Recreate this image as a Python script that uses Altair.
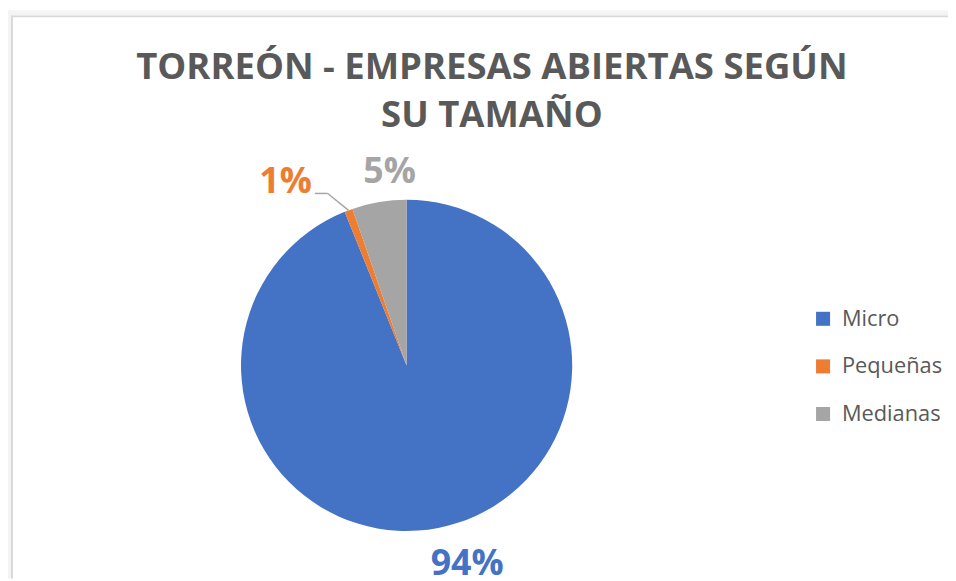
import altair as alt
import pandas as pd

categories = ["Micro", "Pequeñas", "Medianas"]
values = [93.9, 0.8, 5.3]
labels = ["94%", "1%", "5%"]
colors = ["#4472C4", "#ED7D31", "#A5A5A5"]
title_lines = ["TORREÓN - EMPRESAS ABIERTAS SEGÚN", "SU TAMAÑO"]

df = pd.DataFrame({"category": categories, "value": values, "label": labels,
                   "order": list(range(len(categories)))})

CX, CY, R = 402, 358, 167
LR = 200
FONT = "Open Sans"

base = alt.Chart(df)

pie = base.mark_arc(outerRadius=R).encode(
    theta=alt.Theta("value:Q", stack=True),
    order=alt.Order("order:Q"),
    color=alt.Color("category:N",
                    scale=alt.Scale(domain=categories, range=colors),
                    legend=alt.Legend(orient="none", legendX=811, legendY=300, title=None,
                                      symbolType="square", symbolSize=200, symbolStrokeWidth=0,
                                      labelFont=FONT, labelFontSize=22, labelColor="#595959",
                                      rowPadding=26, labelOffset=8, padding=0)),
    x=alt.value(CX), y=alt.value(CY),
)

pos = base.transform_joinaggregate(total="sum(value)").transform_window(
    cum="sum(value)", sort=[alt.SortField("order")], frame=[None, 0]
).transform_calculate(
    mid="2*PI*(datum.cum - datum.value/2)/datum.total"
).transform_calculate(
    px=f"{CX} + {LR}*sin(datum.mid)",
    py=f"{CY} - {LR}*cos(datum.mid)",
    ex=f"{CX} + {R}*sin(datum.mid)",
    ey=f"{CY} - {R}*cos(datum.mid)",
)

nudges = {"Micro": (23, 4), "Pequeñas": (-52, 2), "Medianas": (16, 2)}
label_layers = []
for cat, col in zip(categories, colors):
    dx, dy = nudges[cat]
    label_layers.append(
        pos.transform_filter(alt.datum.category == cat).mark_text(
            font=FONT, fontSize=36, fontWeight="bold", color=col,
            baseline="middle", align="center", dx=dx, dy=dy
        ).encode(x=alt.X("px:Q", scale=None), y=alt.Y("py:Q", scale=None), text="label:N")
    )

lead = pos.transform_filter(alt.datum.category == "Pequeñas").transform_calculate(
    bx="datum.ex - 21", by="datum.ey - 17", sx="datum.ex - 34"
)
lead1 = lead.mark_rule(color="#A6A6A6", strokeWidth=1.5).encode(
    x=alt.X("ex:Q", scale=None), y=alt.Y("ey:Q", scale=None),
    x2="bx:Q", y2="by:Q")
lead2 = lead.mark_rule(color="#A6A6A6", strokeWidth=1.5).encode(
    x=alt.X("bx:Q", scale=None), y=alt.Y("by:Q", scale=None),
    x2="sx:Q", y2="by:Q")

tdf = pd.DataFrame({"t": title_lines, "i": list(range(len(title_lines)))})
title = alt.Chart(tdf).transform_calculate(ty="69 + datum.i*49").mark_text(
    font=FONT, fontSize=36.8, fontWeight="bold", color="#595959",
    align="center", baseline="alphabetic"
).encode(x=alt.value(488), y=alt.Y("ty:Q", scale=None), text="t:N")

bdf = pd.DataFrame({"b": [0]})
outer_left = alt.Chart(bdf).mark_rect(color="#F4F4F4").encode(
    x=alt.value(0), x2=alt.value(3), y=alt.value(0), y2=alt.value(573))
outer_top = alt.Chart(bdf).mark_rect(color="#F4F4F4").encode(
    x=alt.value(0), x2=alt.value(948), y=alt.value(0), y2=alt.value(5))
border_left = alt.Chart(bdf).mark_rule(color="#D9D9D9", strokeWidth=2).encode(
    x=alt.value(4), y=alt.value(5), y2=alt.value(573))
border_top = alt.Chart(bdf).mark_rule(color="#D9D9D9", strokeWidth=2).encode(
    x=alt.value(3), x2=alt.value(948), y=alt.value(6))

chart = alt.layer(outer_left, outer_top, border_left, border_top,
                  pie, lead1, lead2, *label_layers, title).properties(
    width=948, height=573, background="white", padding=0,
    autosize=alt.AutoSizeParams(type="none"),
).configure_view(fill="white", strokeWidth=0)

chart.save("out.html", embed_options={"renderer": "svg", "actions": False})
